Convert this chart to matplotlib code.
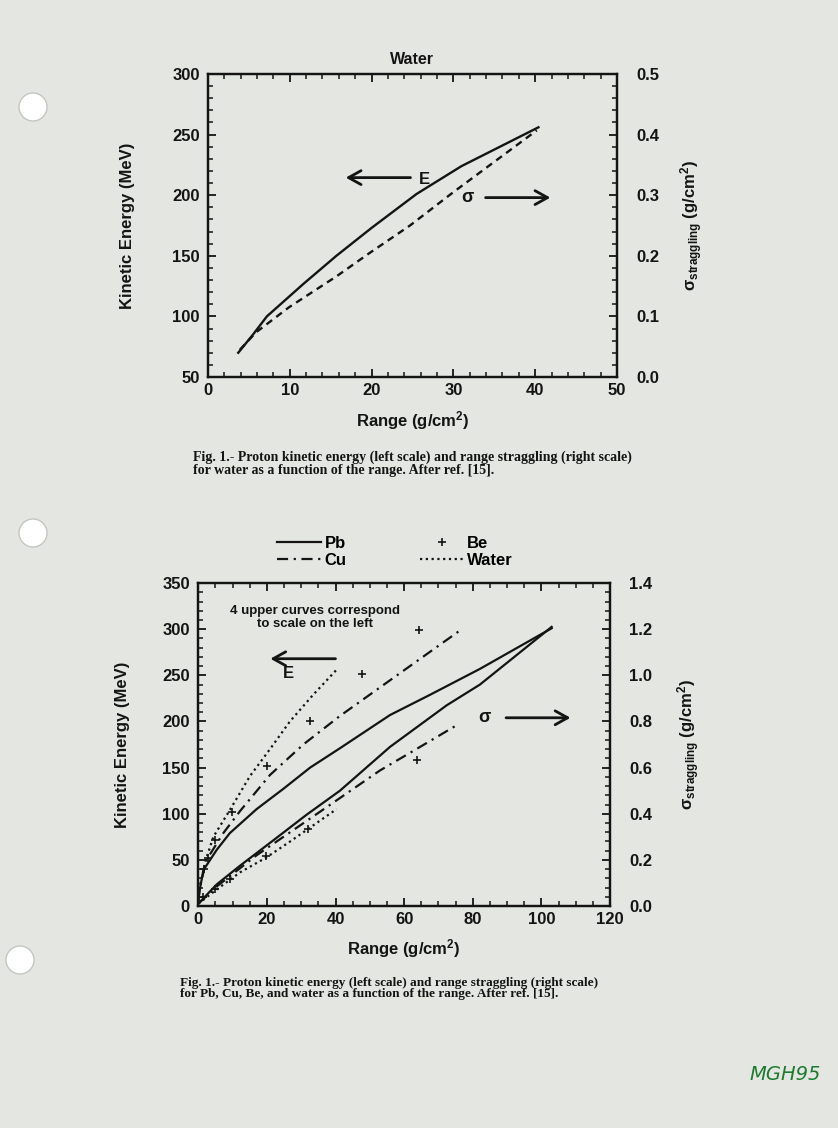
import matplotlib
matplotlib.use("Agg")
import matplotlib.pyplot as plt
from matplotlib.ticker import MultipleLocator, FormatStrFormatter
from matplotlib.patches import Circle

# top chart: water
waterRange = [3.7, 5.5, 7.2, 11.7, 15.7, 20, 25.5, 31, 35.7, 40.4]
waterEnergy = [70, 85, 100, 127, 150, 173, 201, 224, 240, 256]
waterSigmaRange = [3.9, 5.9, 9.9, 15.7, 19.8, 24.7, 30, 35.3, 40.2]
waterSigma = [0.045, 0.074, 0.115, 0.166, 0.205, 0.25, 0.305, 0.358, 0.407]

# bottom chart: energy (left scale)
pbRange = [0, 0.3, 1.5, 5.4, 9.2, 17, 24.8, 32.6, 41.3, 55.9, 67.6, 82.1, 103]
pbEnergy = [5, 15, 39, 61, 79, 105, 127, 150, 171, 207, 229, 257, 301]
cuRange = [0, 0.5, 2.4, 7.3, 12.2, 20.9, 30.6, 41.3, 53, 76.8]
cuEnergy = [5, 21, 50, 79, 103, 142, 175, 206, 237, 300]
beRange = [1.8, 2.9, 4.9, 9.7, 19.9, 32.6, 47.6, 64.4]
beEnergy = [40, 52, 72, 102, 152, 201, 251, 299]
h2oRange = [0, 0.4, 2.2, 4.4, 9.2, 15.1, 20.9, 26.7, 33.5, 40.3]
h2oEnergy = [5, 20, 50, 75, 104, 141, 170, 200, 229, 256]

# bottom chart: straggling (right scale)
pbSigRange = [0, 5.4, 12.2, 21.9, 31.6, 41.3, 55.9, 72.4, 82.1, 103]
pbSigma = [0.01, 0.094, 0.175, 0.285, 0.396, 0.5, 0.69, 0.87, 0.96, 1.21]
cuSigRange = [0, 5.4, 17, 36.4, 53, 63.2, 75.8]
cuSigma = [0.01, 0.085, 0.22, 0.418, 0.588, 0.677, 0.788]
beSigRange = [1.5, 4.9, 9.2, 19.7, 32.1, 63.7]
beSigma = [0.04, 0.072, 0.116, 0.216, 0.335, 0.634]
h2oSigRange = [0, 5.4, 12.2, 19.8, 26.7, 40.3]
h2oSigma = [0.01, 0.072, 0.146, 0.21, 0.279, 0.42]

captionTop = ("Fig. 1.- Proton kinetic energy (left scale) and range straggling (right scale)\n"
              "for water as a function of the range. After ref. [15].")
captionBottom = ("Fig. 1.- Proton kinetic energy (left scale) and range straggling (right scale)\n"
                 "for Pb, Cu, Be, and water as a function of the range. After ref. [15].")

plt.rcParams['font.family'] = ['Liberation Sans', 'DejaVu Sans']
plt.rcParams['font.weight'] = 'bold'
plt.rcParams['axes.labelweight'] = 'bold'
plt.rcParams['axes.titleweight'] = 'bold'
plt.rcParams['mathtext.fontset'] = 'custom'
plt.rcParams['mathtext.rm'] = 'Liberation Sans:bold'
plt.rcParams['mathtext.it'] = 'Liberation Sans:bold'
plt.rcParams['mathtext.bf'] = 'Liberation Sans:bold'
plt.rcParams['mathtext.default'] = 'rm'

paper = '#e4e6e2'
ink = '#141414'
cuStyle = (0, (5, 2.5, 1, 2.5))
h2oStyle = (0, (1, 1.6))
sigLabel = r'$\sigma_{\rm straggling}$ (g/cm$^2$)'

fig = plt.figure(figsize=(8.38, 11.28), dpi=100, facecolor=paper)


def style_axes(ax, ax2, xmaj, xmin, ymaj, ymin, rmaj, rmin):
    ax.set_facecolor('none')
    ax.xaxis.set_major_locator(MultipleLocator(xmaj))
    ax.xaxis.set_minor_locator(MultipleLocator(xmin))
    ax.yaxis.set_major_locator(MultipleLocator(ymaj))
    ax.yaxis.set_minor_locator(MultipleLocator(ymin))
    ax2.yaxis.set_major_locator(MultipleLocator(rmaj))
    ax2.yaxis.set_minor_locator(MultipleLocator(rmin))
    ax2.yaxis.set_major_formatter(FormatStrFormatter('%.1f'))
    ax.tick_params(which='both', direction='in', top=True, right=False, colors=ink, labelsize=12)
    ax.tick_params(which='major', length=6, width=1.3)
    ax.tick_params(which='minor', length=3.5, width=1.1)
    ax.tick_params(axis='y', pad=6)
    ax.tick_params(axis='x', pad=4)
    ax2.tick_params(which='both', direction='in', colors=ink, labelsize=12, pad=14)
    ax2.tick_params(which='major', length=6, width=1.3)
    ax2.tick_params(which='minor', length=3.5, width=1.1)
    for sp in list(ax.spines.values()) + list(ax2.spines.values()):
        sp.set_linewidth(1.6)
        sp.set_color(ink)


arrowStyle = dict(arrowstyle='->,head_length=0.45,head_width=0.25', lw=2, color=ink, mutation_scale=20)

# ---------- top chart ----------
ax = fig.add_axes([0.2482, 0.6658, 0.488, 0.2686])
ax2 = ax.twinx()
ax.set_xlim(0, 50)
ax.set_ylim(50, 300)
ax2.set_ylim(0, 0.5)
style_axes(ax, ax2, 10, 2, 50, 10, 0.1, 0.02)

ax.plot(waterRange, waterEnergy, color=ink, lw=1.7)
ax2.plot(waterSigmaRange, waterSigma, color=ink, lw=1.7, ls=(0, (3, 2.2)))

ax.annotate('', xy=(16.5, 214.5), xytext=(25.1, 214.5), arrowprops=arrowStyle)
ax.text(25.8, 213, 'E', fontsize=12, va='center', ha='left', color=ink)
ax.text(31.8, 198, r'$\sigma$', fontsize=13, va='center', ha='center', color=ink)
ax.annotate('', xy=(42.2, 198), xytext=(33.6, 198), arrowprops=arrowStyle)

ax.set_title('Water', fontsize=11.5, pad=7, color=ink)
ax.set_xlabel('Range (g/cm$^2$)', fontsize=12, color=ink)
ax.xaxis.set_label_coords(0.5, -0.105)
ax.set_ylabel('Kinetic Energy (MeV)', fontsize=12, color=ink)
ax.yaxis.set_label_coords(-0.178, 0.5)
ax2.set_ylabel(sigLabel, fontsize=12, color=ink)
ax2.yaxis.set_label_coords(1.15, 0.5)

fig.text(193 / 838, 1 - 451 / 1128, captionTop, family='Liberation Serif', fontweight='bold',
         fontsize=10, va='top', ha='left', color=ink, linespacing=0.92)

# ---------- bottom chart ----------
bx = fig.add_axes([0.2366, 0.1968, 0.4913, 0.2863])
bx2 = bx.twinx()
bx.set_xlim(0, 120)
bx.set_ylim(0, 350)
bx2.set_ylim(0, 1.4)
style_axes(bx, bx2, 20, 5, 50, 10, 0.2, 0.04)

hPb, = bx.plot(pbRange, pbEnergy, color=ink, lw=1.6, label='Pb')
hCu, = bx.plot(cuRange, cuEnergy, color=ink, lw=1.6, ls=cuStyle, label='Cu')
hBe, = bx.plot(beRange, beEnergy, color=ink, ls='none', marker='+', ms=6, mew=1.2, label='Be')
hH2o, = bx.plot(h2oRange, h2oEnergy, color=ink, lw=1.6, ls=h2oStyle, label='Water')

bx2.plot(pbSigRange, pbSigma, color=ink, lw=1.6)
bx2.plot(cuSigRange, cuSigma, color=ink, lw=1.6, ls=cuStyle)
bx2.plot(beSigRange, beSigma, color=ink, ls='none', marker='+', ms=6, mew=1.2)
bx2.plot(h2oSigRange, h2oSigma, color=ink, lw=1.6, ls=h2oStyle)

bx.text(34, 313, '4 upper curves correspond\nto scale on the left', fontsize=9.5,
        ha='center', va='center', color=ink, linespacing=1.15)
bx.annotate('', xy=(20.2, 268), xytext=(40.8, 268), arrowprops=arrowStyle)
bx.text(26.2, 252, 'E', fontsize=12, va='center', ha='center', color=ink)
bx.text(83.6, 204, r'$\sigma$', fontsize=13, va='center', ha='center', color=ink)
bx.annotate('', xy=(109.3, 204), xytext=(88.9, 204), arrowprops=arrowStyle)

bx.set_xlabel('Range (g/cm$^2$)', fontsize=12, color=ink)
bx.xaxis.set_label_coords(0.5, -0.095)
bx.set_ylabel('Kinetic Energy (MeV)', fontsize=12, color=ink)
bx.yaxis.set_label_coords(-0.166, 0.5)
bx2.set_ylabel(sigLabel, fontsize=12, color=ink)
bx2.yaxis.set_label_coords(1.16, 0.5)

fig.legend([hPb, hCu, hBe, hH2o], ['Pb', 'Cu', 'Be', 'Water'], loc='upper left',
           bbox_to_anchor=(277 / 838, 1 - 536 / 1128), ncol=2, frameon=False,
           handlelength=2.65, handletextpad=0.2, columnspacing=4.4, labelspacing=0.1,
           borderpad=0, borderaxespad=0, fontsize=12, numpoints=1)

fig.text(180 / 838, 1 - 977 / 1128, captionBottom, family='Liberation Serif', fontweight='bold',
         fontsize=9.5, va='top', ha='left', color=ink, linespacing=0.92)

# punch holes and handwriting on the scanned page
for hx, hy in [(33, 107), (33, 533), (20, 960)]:
    fig.patches.append(Circle((hx / 100, (1128 - hy) / 100), 0.14, transform=fig.dpi_scale_trans,
                              facecolor='white', edgecolor='#c4c6c2', lw=1))
fig.text(785 / 838, 1 - 1075 / 1128, 'MGH95', fontsize=14, style='italic', color='#1d7a2e',
         ha='center', va='center', family='DejaVu Sans', fontweight='normal')

fig.savefig('out.png', dpi=100, facecolor=paper)
